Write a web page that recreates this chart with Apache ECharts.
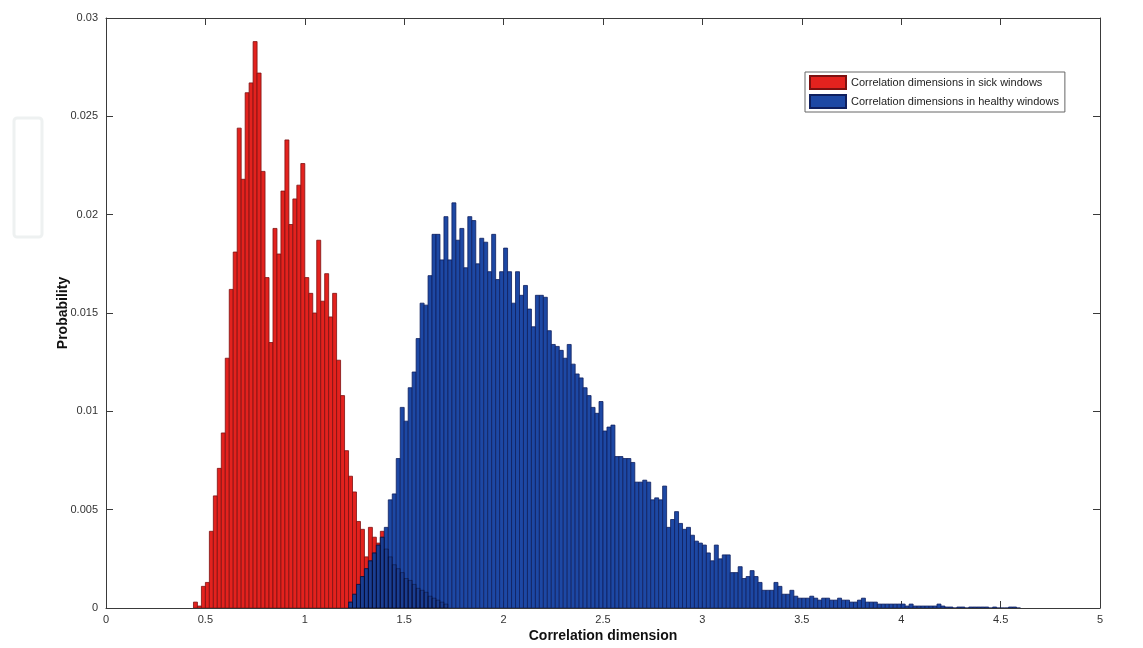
<!DOCTYPE html>
<html>
<head>
<meta charset="utf-8">
<script src="https://cdn.jsdelivr.net/npm/echarts@6/dist/echarts.min.js"></script>
<style>
html, body { margin: 0; padding: 0; background: #fff; }
#main { width: 1143px; height: 648px; }
</style>
</head>
<body>
<div id="main"></div>
<script>
// histogram bins, width 0.02
var binWidth = 0.02;

var sickStart = 0.44;
var sickProb = [
    0.0003, 0.0001, 0.0011, 0.0013, 0.0039, 0.0057, 0.0071, 0.0089, 0.0127, 0.0162,
    0.0181, 0.0244, 0.0218, 0.0262, 0.0267, 0.0288, 0.0272, 0.0222, 0.0168, 0.0135,
    0.0193, 0.0180, 0.0212, 0.0238, 0.0195, 0.0208, 0.0215, 0.0226, 0.0168, 0.0160,
    0.0150, 0.0187, 0.0156, 0.0170, 0.0148, 0.0160, 0.0126, 0.0108, 0.0080, 0.0067,
    0.0059, 0.0044, 0.0040, 0.0026, 0.0041, 0.0036, 0.0033, 0.0039, 0.0030, 0.0026,
    0.0022, 0.0020, 0.0018, 0.0015, 0.0014, 0.0012, 0.0010, 0.0009, 0.0008, 0.0006,
    0.0005, 0.0004, 0.0003, 0.0002
];

var healthyStart = 1.22;
var healthyProb = [
    0.0003, 0.0007, 0.0012, 0.0016, 0.0020, 0.0024, 0.0028, 0.0032, 0.0036, 0.0041,
    0.0055, 0.0058, 0.0076, 0.0102, 0.0095, 0.0112, 0.0120, 0.0137, 0.0155, 0.0154,
    0.0169, 0.0190, 0.0190, 0.0177, 0.0199, 0.0177, 0.0206, 0.0187, 0.0193, 0.0173,
    0.0199, 0.0197, 0.0175, 0.0188, 0.0186, 0.0171, 0.0190, 0.0167, 0.0171, 0.0183,
    0.0171, 0.0155, 0.0171, 0.0159, 0.0164, 0.0152, 0.0143, 0.0159, 0.0159, 0.0158,
    0.0141, 0.0134, 0.0133, 0.0131, 0.0127, 0.0134, 0.0124, 0.0119, 0.0117, 0.0112,
    0.0108, 0.0102, 0.0099, 0.0105, 0.0090, 0.0092, 0.0093, 0.0077, 0.0077, 0.0076,
    0.0076, 0.0074, 0.0064, 0.0064, 0.0065, 0.0064, 0.0055, 0.0056, 0.0055, 0.0062,
    0.0041, 0.0045, 0.0049, 0.0043, 0.0040, 0.0041, 0.0037, 0.0034, 0.0033, 0.0032,
    0.0028, 0.0024, 0.0032, 0.0025, 0.0027, 0.0027, 0.0018, 0.0018, 0.0021, 0.0015,
    0.0016, 0.0019, 0.0016, 0.0013, 0.0009, 0.0009, 0.0009, 0.0013, 0.0011, 0.0007,
    0.0007, 0.0009, 0.0006, 0.0005, 0.0005, 0.0005, 0.0006, 0.0005, 0.0004, 0.0005,
    0.0005, 0.0004, 0.0004, 0.0005, 0.0004, 0.0004, 0.0003, 0.0003, 0.0004, 0.0005,
    0.0003, 0.0003, 0.0003, 0.0002, 0.0002, 0.0002, 0.0002, 0.0002, 0.0002, 0.0002,
    0.0001, 0.0002, 0.0001, 0.0001, 0.0001, 0.0001, 0.0001, 0.0001, 0.0002, 0.0001,
    0.00005, 0.00005, 0, 0.00005, 0.00005, 0, 0.00005, 0.00005, 0.00005, 0.00005,
    0.00005, 0, 0.00005, 0, 0, 0, 0.00005, 0.00005, 0
];

var xTicks = [0, 0.5, 1, 1.5, 2, 2.5, 3, 3.5, 4, 4.5, 5];
var yTicks = [0, 0.005, 0.01, 0.015, 0.02, 0.025, 0.03];

var sickName = 'Correlation dimensions in sick windows';
var healthyName = 'Correlation dimensions in healthy windows';

function toBins(start, probs) {
    return probs.map(function (p, i) {
        return [+(start + i * binWidth).toFixed(2), p];
    });
}
var sickBins = toBins(sickStart, sickProb);
var healthyBins = toBins(healthyStart, healthyProb);

// the piece of each sick bar that is covered by the healthy bar in front of it
var hiddenBins = [];
sickBins.forEach(function (b) {
    var k = Math.round((b[0] - healthyStart) / binWidth);
    if (k >= 0 && k < healthyProb.length) {
        hiddenBins.push([b[0], Math.min(b[1], healthyProb[k])]);
    }
});

function barRenderer(fill, stroke, width) {
    return function (params, api) {
        var x = api.value(0);
        var y = api.value(1);
        var top = api.coord([x, y]);
        var bottom = api.coord([x + binWidth, 0]);
        return {
            type: 'rect',
            shape: { x: top[0], y: top[1], width: bottom[0] - top[0], height: bottom[1] - top[1] },
            style: { fill: fill, stroke: stroke, lineWidth: width }
        };
    };
}

var axisColor = '#3a3a3a';
var labelFont = { fontFamily: 'Liberation Sans, Arial', fontSize: 11, color: '#333' };

function frameAxis(pos, extra) {
    // mirrored axis for the box around the plot, ticks only
    return Object.assign({
        type: 'value',
        position: pos,
        axisLine: { show: true, onZero: false, lineStyle: { color: axisColor, width: 1 } },
        axisTick: { show: true, inside: true, length: 7, lineStyle: { color: axisColor } },
        axisLabel: { show: false },
        splitLine: { show: false }
    }, extra);
}

var chart = echarts.init(document.getElementById('main'));
chart.setOption({
    animation: false,
    backgroundColor: '#fff',
    grid: { left: 106, right: 43, top: 18, bottom: 40, outerBoundsMode: 'none' },
    graphic: [{
        // faint publisher watermark at the left edge
        type: 'rect',
        silent: true,
        shape: { x: 14, y: 118, width: 28, height: 119, r: 3 },
        style: { fill: 'none', stroke: '#eef1f1', lineWidth: 3 }
    }],
    legend: {
        left: 805,
        top: 72,
        orient: 'vertical',
        icon: 'rect',
        itemWidth: 36,
        itemHeight: 13,
        itemGap: 4,
        padding: [3, 6, 3, 4],
        borderColor: '#666',
        borderWidth: 1,
        backgroundColor: '#fff',
        textStyle: { fontFamily: 'Liberation Sans Narrow, Arial Narrow, sans-serif', fontSize: 11, color: '#222' },
        data: [sickName, healthyName]
    },
    xAxis: [{
        type: 'value',
        min: xTicks[0],
        max: xTicks[xTicks.length - 1],
        interval: xTicks[1] - xTicks[0],
        name: 'Correlation dimension',
        nameLocation: 'middle',
        nameGap: 21,
        nameMoveOverlap: false,
        nameTextStyle: { fontFamily: 'Liberation Sans, Arial', fontSize: 14, fontWeight: 'bold', color: '#111' },
        axisLine: { onZero: false, lineStyle: { color: axisColor, width: 1 } },
        axisTick: { inside: true, length: 7, lineStyle: { color: axisColor } },
        axisLabel: Object.assign({ margin: 6 }, labelFont),
        splitLine: { show: false }
    }, frameAxis('top', {
        min: xTicks[0],
        max: xTicks[xTicks.length - 1],
        interval: xTicks[1] - xTicks[0]
    })],
    yAxis: [{
        type: 'value',
        min: yTicks[0],
        max: yTicks[yTicks.length - 1],
        interval: yTicks[1] - yTicks[0],
        name: 'Probability',
        nameLocation: 'middle',
        nameGap: 36,
        nameMoveOverlap: false,
        nameRotate: 90,
        nameTextStyle: { fontFamily: 'Liberation Sans, Arial', fontSize: 14, fontWeight: 'bold', color: '#111' },
        axisLine: { show: true, onZero: false, lineStyle: { color: axisColor, width: 1 } },
        axisTick: { show: true, inside: true, length: 7, lineStyle: { color: axisColor } },
        axisLabel: Object.assign({
            margin: 8,
            formatter: function (v) { return String(+v.toFixed(3)); }
        }, labelFont),
        splitLine: { show: false }
    }, frameAxis('right', {
        min: yTicks[0],
        max: yTicks[yTicks.length - 1],
        interval: yTicks[1] - yTicks[0]
    })],
    series: [{
        name: sickName,
        type: 'custom',
        renderItem: barRenderer('#e3221e', '#7d1010', 0.8),
        itemStyle: { color: '#e3221e', borderColor: '#7d1010', borderWidth: 1 },
        encode: { x: 0, y: 1 },
        clip: true,
        z: 2,
        data: sickBins
    }, {
        name: healthyName,
        type: 'custom',
        renderItem: barRenderer('#1d48a4', '#0f1f5e', 0.8),
        itemStyle: { color: '#1d48a4', borderColor: '#0f1f5e', borderWidth: 1 },
        encode: { x: 0, y: 1 },
        clip: true,
        z: 3,
        data: healthyBins
    }, {
        name: 'hidden',
        type: 'custom',
        renderItem: barRenderer('rgba(10,15,50,0.16)', 'rgba(5,5,30,0.45)', 0.8),
        encode: { x: 0, y: 1 },
        clip: true,
        silent: true,
        z: 4,
        data: hiddenBins
    }]
});
</script>
</body>
</html>
